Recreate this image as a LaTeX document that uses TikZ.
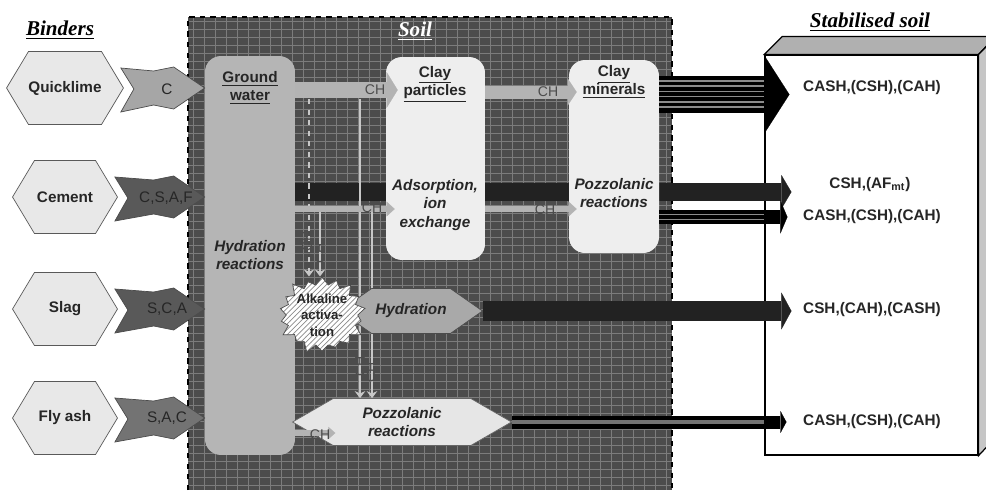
\documentclass[tikz,border=0pt]{standalone}
\usepackage{fontspec}
\setmainfont{Liberation Sans}
\newfontfamily\titlefont{Liberation Serif}
\usepackage{xcolor}
\usetikzlibrary{shapes,arrows.meta,calc,patterns}

\definecolor{soilgray}{HTML}{4C4C4C}
\definecolor{gridgray}{HTML}{7C7C7C}
\definecolor{hexgray}{HTML}{E8E8E8}
\definecolor{gwgray}{HTML}{B5B5B5}
\definecolor{claygray}{HTML}{EEEEEE}
\definecolor{chgray}{HTML}{B3B3B3}
\definecolor{limegray}{HTML}{A6A6A6}
\definecolor{cemgray}{HTML}{595959}
\definecolor{ashgray}{HTML}{737373}
\definecolor{bandblack}{HTML}{222222}
\definecolor{hydgray}{HTML}{A9A9A9}
\definecolor{pozzgray}{HTML}{E6E6E6}
\definecolor{topgray}{HTML}{B0B0B0}
\definecolor{sidegray}{HTML}{C6C6C6}

\pgfdeclarelayer{bg}
\pgfdeclarelayer{flow}
\pgfsetlayers{bg,flow,main}

\tikzset{
  hexbox/.style={signal, signal to=east and west, signal pointer angle=118, fill=hexgray, draw=black!65,
    minimum width=2.1cm, minimum height=1.46cm, inner sep=0pt, font=\bfseries\fontsize{8.7}{10.4}\selectfont, text=black!85},
  chevron/.style={draw=black!70, to path={($(\tikztostart)+(-3,-20)$) -- ($(\tikztotarget)+(-51,-17)$)
    -- ($(\tikztotarget)+(-31,-21)$) -- (\tikztotarget) -- ($(\tikztotarget)+(-31,21)$)
    -- ($(\tikztotarget)+(-51,17)$) -- ($(\tikztostart)+(-3,24)$) -- ($(\tikztostart)+(10,1)$) -- cycle}},
  binderlab/.style={font=\fontsize{8.7}{10.4}\selectfont, text=black!85, inner sep=0pt},
  tallbox/.style={rectangle, rounded corners=9pt, inner sep=0pt},
  lab/.style={font=\bfseries\fontsize{8.7}{10.4}\selectfont, align=center, text=black!85, inner sep=1pt},
  labit/.style={font=\bfseries\itshape\fontsize{8.7}{10.4}\selectfont, align=center, text=black!85, inner sep=1pt},
  heading/.style={font=\titlefont\bfseries\itshape\fontsize{12}{14}\selectfont},
  chlab/.style={font=\fontsize{8}{9}\selectfont, text=black!70, inner sep=0pt},
  gridline/.style={draw=gridgray, line width=0.45pt},
  fat/.style n args={3}{line width=#1, -{Triangle[width=#2, length=#3, line width=0.1pt]}},
  chline/.style={draw=black!22, line width=1.1pt},
  chtip/.style={-{Stealth[length=4pt, width=6pt]}},
  stripe/.style={draw=black!45, line width=1pt}
}

\begin{document}
\begin{tikzpicture}[x=0.02cm, y=-0.02cm]
\useasboundingbox (0,0) rectangle (986,490);

\begin{pgfonlayer}{bg}
\fill[soilgray] (188,17) rectangle (672,490);
\foreach \gx in {193,204,...,670}
  \draw[gridline] (\gx,17) -- (\gx,490);
\foreach \gy in {21,29,...,489}
  \draw[gridline] (188,\gy) -- (672,\gy);
\draw[dashed, line width=0.8pt] (188,490) -- (188,17) -- (672,17) -- (672,490);

\node[draw, fill=white, line width=0.7pt, minimum width=4.26cm, minimum height=8cm] (stab) at (871.5,255) {};
\filldraw[fill=topgray, line width=0.7pt] (stab.north west) -- ++(18,-18) -- ++(213,0) -- (stab.north east) -- cycle;
\filldraw[fill=sidegray, line width=0.7pt] (stab.north east) -- ++(18,-18) -- ++(0,400) -- (stab.south east) -- cycle;
\end{pgfonlayer}

\node[heading] (binders) at (60,30) {\underline{Binders}};
\node[heading, text=white] (soil) at (415,31) {\underline{Soil}};
\node[heading] (stabt) at (870,22) {\underline{Stabilised soil}};

\node[tallbox, fill=gwgray, minimum width=1.8cm, minimum height=7.98cm] (gw) at (250,255.5) {};
\node[lab] (gwt) at (250,88) {\underline{Ground}\\\underline{water}};
\node[labit] (gwr) at (250,255) {Hydration\\reactions};

\node[hexbox] (quick) at (65,88) {Quicklime};
\node[hexbox] (cem) at (65,197) {Cement};
\node[hexbox] (slag) at (65,309) {Slag};
\node[hexbox] (ash) at (65,418) {Fly ash};

\draw[chevron, fill=limegray] (quick.east) to (gw.west |- quick.east);
\draw[chevron, fill=cemgray] (cem.east) to (gw.west |- cem.east);
\draw[chevron, fill=cemgray] (slag.east) to (gw.west |- slag.east);
\draw[chevron, fill=ashgray] (ash.east) to (gw.west |- ash.east);
\node[binderlab] (quickl) at (167,89) {C};
\node[binderlab] (ceml) at (166,198) {C,S,A,F};
\node[binderlab] (slagl) at (167,309) {S,C,A};
\node[binderlab] (ashl) at (167,418) {S,A,C};

\node[tallbox, fill=claygray, minimum width=1.98cm, minimum height=4.06cm] (cp) at (435.5,158.5) {};
\node[lab] (cpt) at (435,84) {\underline{Clay}\\\underline{particles}};
\node[labit] (cpr) at (435,205) {Adsorption,\\ion\\exchange};

\node[tallbox, fill=claygray, minimum width=1.8cm, minimum height=3.86cm] (cm) at (614,156.5) {};
\node[lab] (cmt) at (614,82) {\underline{Clay}\\\underline{minerals}};
\node[labit] (cmr) at (614,193) {Pozzolanic\\reactions};

\node[signal, signal to=east and west, signal pointer angle=70, fill=hydgray, draw=black!70,
  minimum width=2.86cm, minimum height=0.9cm, inner sep=0pt, labit] (hydr) at (411,311) {Hydration};
\node[signal, signal to=east and west, signal pointer angle=60, fill=pozzgray, draw=black!60,
  minimum width=4.38cm, minimum height=0.94cm, inner sep=0pt, labit] (pozz) at (402,422) {Pozzolanic\\reactions};
\node[starburst, starburst points=18, starburst point height=6pt, draw=black!70, preaction={fill=white},
  pattern=north east lines, pattern color=black!45, minimum width=1.68cm, minimum height=1.2cm, inner sep=0pt,
  font=\bfseries\fontsize{7.5}{9.5}\selectfont, align=center, text=black!85] (alk) at (322,315) {Alkaline\\activa-\\tion};

\coordinate (rowa) at (0,90);
\coordinate (rowa2) at (0,92);
\coordinate (rowm) at (0,94.5);
\coordinate (rowb) at (0,192);
\coordinate (rowc) at (0,209);
\coordinate (rowd) at (0,217);
\coordinate (rowe) at (0,433);
\coordinate (v1) at (309,99);
\coordinate (v2) at (320,212);
\coordinate (v3) at (360,99);
\coordinate (v4) at (372,212);

\begin{pgfonlayer}{flow}
\draw[bandblack, fat={10.8pt}{19.3pt}{5.7pt}] (gw.east |- rowb) -- ($(stab.west |- rowb)+(27,0)$);
\draw[chline, dashed, chtip] (v1) -- (v1 |- alk.north);
\draw[chline, chtip] (v2) -- (v2 |- alk.north);
\draw[chline, chtip] (v3) -- (v3 |- pozz.north);
\draw[chline, chtip] (v4) -- (v4 |- pozz.north);
\end{pgfonlayer}

\draw[chgray, fat={9.1pt}{20.5pt}{6.3pt}] (gw.east |- rowa) -- ($(cp.west |- rowa)+(12,0)$);
\draw[chgray, fat={7.4pt}{15.4pt}{5.1pt}] (cp.east |- rowa2) -- ($(cm.west |- rowa2)+(8,0)$);
\draw[chgray, fat={3.4pt}{8.5pt}{4.6pt}] (gw.east |- rowc) -- ($(cp.west |- rowc)+(9,0)$);
\draw[chgray, fat={3.4pt}{8.5pt}{4.6pt}] (cp.east |- rowc) -- ($(cm.west |- rowc)+(8,0)$);
\draw[chgray, fat={3pt}{7pt}{4pt}] (gw.east |- rowe) -- ++(40,0);

\node[chlab] (ch1) at (375,90) {CH};
\node[chlab] (ch2) at (548,92) {CH};
\node[chlab] (ch3) at (372,208) {CH};
\node[chlab] (ch4) at (545,210) {CH};
\node[chlab] (ch5) at (320,435) {CH};
\node[chlab, rotate=90] (chv1) at (307,241) {CH};
\node[chlab, rotate=90] (chv2) at (320,253) {CH};
\node[chlab, rotate=90] (chv3) at (360,366) {CH};
\node[chlab, rotate=90] (chv4) at (371,372) {CH};

\draw[black, fat={21pt}{42.7pt}{13.7pt}] (cm.east |- rowm) -- ($(stab.west |- rowm)+(25,0)$);
\foreach \sy in {81,86.2,...,107}
  \draw[stripe] (cm.east |- 0,\sy) -- (stab.west |- 0,\sy);
\draw[black, fat={8pt}{18.8pt}{4pt}] (cm.east |- rowd) -- ($(stab.west |- rowd)+(23,0)$);
\foreach \sy in {214.5,219.5}
  \draw[stripe] (cm.east |- 0,\sy) -- (stab.west |- 0,\sy);
\draw[bandblack, fat={11.4pt}{21pt}{5.7pt}] (hydr.east) -- ($(stab.west |- hydr.east)+(27,0)$);
\draw[black, fat={7.4pt}{12.5pt}{3.4pt}] (pozz.east) -- ($(stab.west |- pozz.east)+(22,0)$);
\draw[stripe, line width=2.4pt, draw=black!55] (pozz.east) -- (stab.west |- pozz.east);

\node[lab] (out1) at (872,88) {CASH,(CSH),(CAH)};
\node[lab] (out2) at (870,185) {CSH,(AF\textsubscript{mt})};
\node[lab] (out3) at (872,217) {CASH,(CSH),(CAH)};
\node[lab] (out4) at (872,310) {CSH,(CAH),(CASH)};
\node[lab] (out5) at (872,422) {CASH,(CSH),(CAH)};

\end{tikzpicture}
\end{document}
